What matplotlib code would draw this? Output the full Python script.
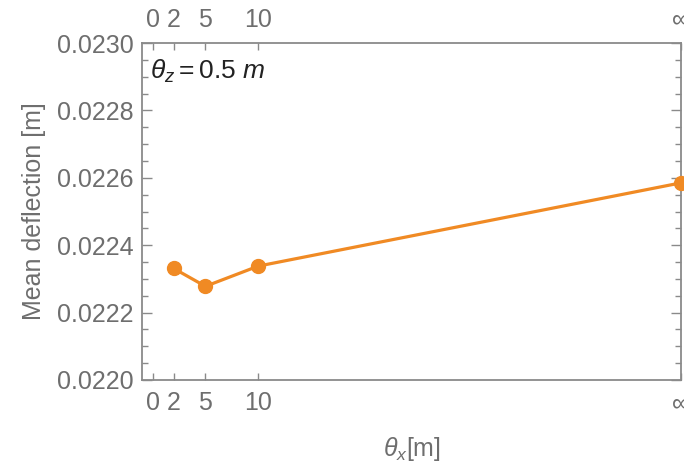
import matplotlib
matplotlib.use("Agg")
import matplotlib.pyplot as plt
from matplotlib.ticker import MultipleLocator

plt.rcParams['font.family'] = ['Liberation Sans', 'DejaVu Sans']
plt.rcParams['mathtext.fontset'] = 'custom'
plt.rcParams['mathtext.rm'] = 'Liberation Sans'
plt.rcParams['mathtext.it'] = 'Liberation Sans:italic'

# theta_x positions (infinity drawn at 50)
theta_x = [2, 5, 10, 50]
deflection = [0.022331, 0.022278, 0.022338, 0.022585]
xtick_pos = [0, 2, 5, 10, 50]
xtick_lab = ['0', '2', '5', '10', '∞']

grey = '#8a8a8a'
txt = '#6e6e6e'
orange = '#f08a24'

fig = plt.figure(figsize=(6.84, 4.65), dpi=100)
ax = fig.add_axes([0.2076, 0.1828, 0.7880, 0.7247])

ax.plot(theta_x, deflection, color=orange, lw=2.3, marker='o', ms=10,
        clip_on=False, zorder=3)

ax.set_xlim(-1, 50)
ax.set_ylim(0.0220, 0.0230)
ax.set_xticks(xtick_pos)
ax.set_xticklabels(xtick_lab)
ax.set_yticks([0.0220, 0.0222, 0.0224, 0.0226, 0.0228, 0.0230])
ax.set_yticklabels(['0.0220', '0.0222', '0.0224', '0.0226', '0.0228', '0.0230'])
ax.yaxis.set_minor_locator(MultipleLocator(0.00005))

ax.tick_params(axis='both', which='both', direction='in', colors=grey,
               labelcolor=txt, labelsize=18, width=1)
ax.tick_params(axis='x', which='major', length=5, top=True, labeltop=True, pad=8)
ax.tick_params(axis='y', which='major', length=7, right=True, pad=6)
ax.tick_params(axis='y', which='minor', length=4, right=True)

for s in ax.spines.values():
    s.set_color(grey)
    s.set_linewidth(1.3)

ax.set_ylabel('Mean deflection [m]', color=txt, fontsize=18, labelpad=8)
ax.set_xlabel(r'$\theta_x$[m]', color=txt, fontsize=18, labelpad=14)
ax.text(0.015, 0.955, r'$\theta_z = 0.5\ m$', transform=ax.transAxes,
        fontsize=19, color='#222222', va='top', ha='left')

fig.savefig('out.png', dpi=100)
